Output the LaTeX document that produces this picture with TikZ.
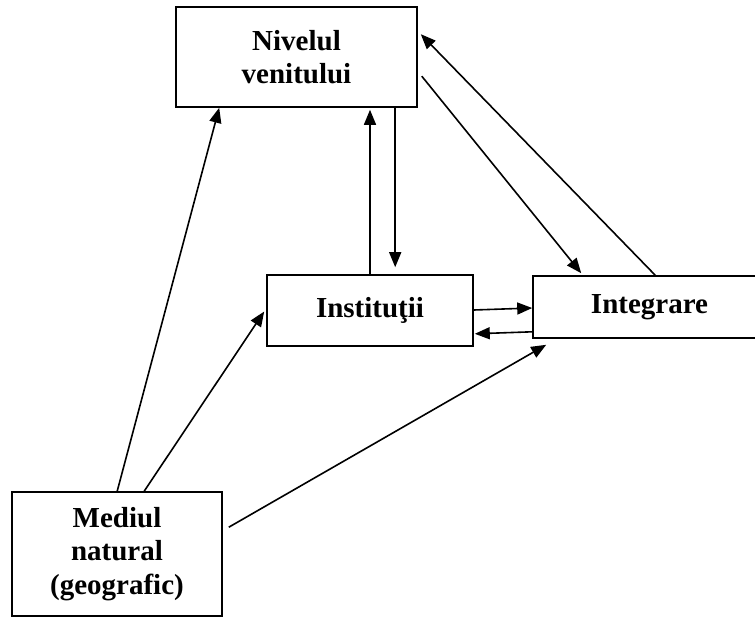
\documentclass[tikz,border=0pt]{standalone}
\usepackage{fontspec}
\setmainfont{Liberation Serif}
\usetikzlibrary{arrows.meta,calc}
\begin{document}
\begin{tikzpicture}[x=1pt,y=-1pt,
  box/.style={draw,line width=1.6pt,inner sep=0pt,align=center,
    font=\fontsize{29}{33.5}\selectfont\bfseries},
  conn/.style={line width=1.6pt,-{Triangle[length=15pt,width=12pt]}}]
\useasboundingbox (0,0) rectangle (755,626);
\node[box,minimum width=241pt,minimum height=100pt] (niv) at (296.5,57) {Nivelul\\venitului};
\node[box,minimum width=206pt,minimum height=71pt] (inst) at (370,310.5) {\raisebox{6pt}{Instituţii}};
\node[box,minimum width=233pt,minimum height=62pt] (integ) at (649.5,307) {\raisebox{4pt}{Integrare}};
\node[box,minimum width=210pt,minimum height=124pt] (med) at (117,554) {Mediul\\natural\\(geografic)};
% from Mediul natural
\draw[conn] ($(med.north west)+(106,0)$) -- ($(niv.south west)+(44,0)$);
\draw[conn] ($(med.north west)+(133,0)$) -- ($(inst.west)+(-2,1)$);
\draw[conn] ($(med.north east)+(6,36)$) -- ($(integ.south west)+(14,6)$);
% Institutii <-> Nivelul
\draw[conn] (inst.north) -- ($(inst.north |- niv.south)+(0,2)$);
\draw[conn] ($(niv.south west)+(220,0)$) -- ($(inst.north west)+(129,-7)$);
% Nivelul <-> Integrare
\draw[conn] ($(niv.north east)+(4,70)$) -- ($(integ.north west)+(49,-2)$);
\draw[conn] ($(integ.north west)+(123,0)$) -- ($(niv.north east)+(3,28)$);
% Institutii <-> Integrare
\draw[conn] ($(inst.east)+(0,-0.5)$) -- ($(integ.west)+(0,1)$);
\draw[conn] ($(integ.south west)+(0,-7)$) -- ($(inst.south east)+(1,-13)$);
\end{tikzpicture}
\end{document}
